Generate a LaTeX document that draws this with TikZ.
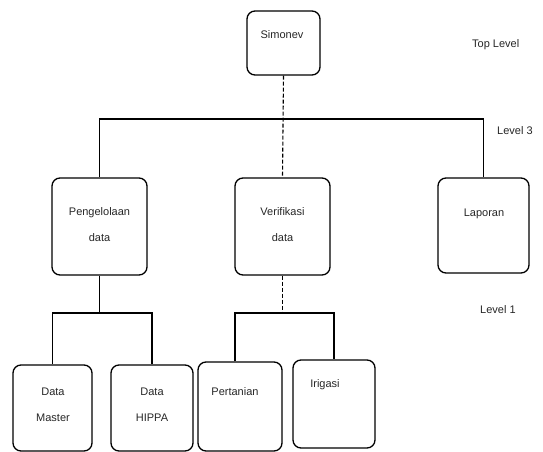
\documentclass[tikz,border=0pt]{standalone}
\usepackage{fontspec}
\setmainfont{Liberation Sans}
\usetikzlibrary{calc}
\begin{document}
\begin{tikzpicture}[x=1pt,y=-1pt,
  box/.style={draw, line width=1.3pt, rounded corners=8pt, inner sep=0pt},
  conn/.style={line width=1.3pt},
  dconn/.style={line width=1.1pt, dash pattern=on 4pt off 2pt},
  txt/.style={font=\fontsize{11}{26}\selectfont, align=center, inner sep=0pt, text=black!85}]
\useasboundingbox (0,0) rectangle (543,452);
% boxes
\node[box, minimum width=73pt, minimum height=64pt] (sim) at (283.5,43) {};
\node[box, minimum width=95pt, minimum height=97pt] (pen) at (99.5,226.5) {};
\node[box, minimum width=95pt, minimum height=97pt] (ver) at (282.5,226.5) {};
\node[box, minimum width=91pt, minimum height=95pt] (lap) at (483.5,225.5) {};
\node[box, minimum width=79pt, minimum height=86pt] (dm) at (52.5,408) {};
\node[box, minimum width=82pt, minimum height=86pt] (hip) at (152,408) {};
\node[box, minimum width=84pt, minimum height=89pt] (per) at (240,406.5) {};
\node[box, minimum width=82pt, minimum height=88pt] (iri) at (334,404) {};
% texts
\node[txt] (tsim) at (282,35) {Simonev};
\node[txt] (tpen) at (99.5,225) {Pengelolaan\\data};
\node[txt] (tver) at (282.5,225) {Verifikasi\\data};
\node[txt] (tlap) at (484,214) {Laporan};
\node[txt] (tdm) at (53,405) {Data\\Master};
\node[txt] (thip) at (152,405) {Data\\HIPPA};
\node[txt] (tper) at (235,392) {Pertanian};
\node[txt] (tiri) at (325,385) {Irigasi};
% level labels
\node[txt, anchor=west] (ltop) at (472,45) {Top Level};
\node[txt, anchor=west] (l3) at (497,131) {Level 3};
\node[txt, anchor=west] (l1) at (480,310) {Level 1};
% connectors
\coordinate (bus) at (283,119);
\coordinate (busl) at (0,313);
\draw[dconn] (sim.south) -- (ver.north);
\draw[conn] (pen.north) -- (pen.north |- bus) -- (lap.north |- bus) -- (lap.north);
\draw[conn] (pen.south) -- (pen.south |- busl);
\draw[conn] (dm.north) -- (dm.north |- busl) -- (hip.north |- busl) -- (hip.north);
\draw[dconn] (ver.south) -- (ver.south |- busl);
\coordinate (pertop) at ($(per.north)+(-5,0)$);
\draw[conn] (pertop) -- (pertop |- busl) -- (iri.north |- busl) -- (iri.north);
\end{tikzpicture}
\end{document}
